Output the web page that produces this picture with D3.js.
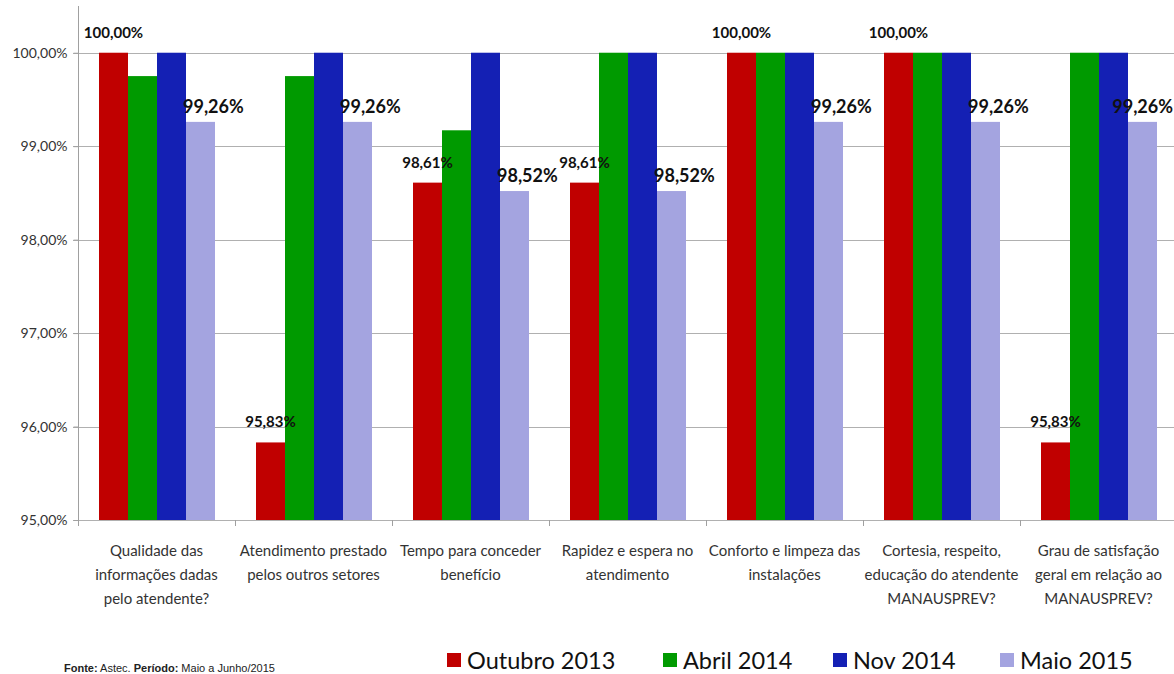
<!DOCTYPE html>
<html>
<head>
<meta charset="utf-8">
<script src="https://cdn.jsdelivr.net/npm/d3@7"></script>
<style>
  body { margin: 0; background: #fff; }
  svg { display: block; font-family: "Lato", "Open Sans", sans-serif; }
</style>
</head>
<body>
<script>
// dados
const categories = [
  ['Qualidade das', 'informações dadas', 'pelo atendente?'],
  ['Atendimento prestado', 'pelos outros setores'],
  ['Tempo para conceder', 'benefício'],
  ['Rapidez e espera no', 'atendimento'],
  ['Conforto e limpeza das', 'instalações'],
  ['Cortesia, respeito,', 'educação do atendente', 'MANAUSPREV?'],
  ['Grau de satisfação', 'geral em relação ao', 'MANAUSPREV?']
];
const seriesNames = ['Outubro 2013', 'Abril 2014', 'Nov 2014', 'Maio 2015'];
const outubro2013 = [100, 95.83, 98.61, 98.61, 100, 100, 95.83];
const abril2014 = [99.75, 99.75, 99.17, 100, 100, 100, 100];
const nov2014 = [100, 100, 100, 100, 100, 100, 100];
const maio2015 = [99.26, 99.26, 98.52, 98.52, 99.26, 99.26, 99.26];
const yTicks = [95, 96, 97, 98, 99, 100];
const colors = ['#c00000', '#009a00', '#1420b4', '#a4a4e0'];

window.addEventListener('load', function() {
  const W = 1174, H = 674;
  const svg = d3.select('body').append('svg')
    .attr('width', W).attr('height', H);

  const values = [outubro2013, abril2014, nov2014, maio2015];
  const idx = d3.range(categories.length);

  const x0 = d3.scaleBand().domain(idx).range([78, 1177]).padding(0);
  const x1 = d3.scaleBand().domain(d3.range(seriesNames.length)).range([21, 137]);
  const y = d3.scaleLinear().domain([95, 100.5]).range([520, 6]);

  const fmt = v => d3.format('.2f')(v).replace('.', ',') + '%';

  // grade horizontal
  svg.append('g').selectAll('line').data(yTicks).join('line')
    .attr('x1', 73).attr('x2', W)
    .attr('y1', d => Math.round(y(d)) + 0.5).attr('y2', d => Math.round(y(d)) + 0.5)
    .attr('stroke', '#b0b0b0').attr('stroke-width', 1);

  // eixo y
  const yAxis = svg.append('g').attr('transform', 'translate(78.5,0)')
    .call(d3.axisLeft(y).tickValues(yTicks).tickSize(5).tickFormat(fmt));
  yAxis.select('.domain').attr('stroke', '#a0a0a0').attr('d', 'M0,' + y(100.5) + 'V' + y(95));
  yAxis.selectAll('.tick line').attr('stroke', '#a0a0a0');
  yAxis.selectAll('.tick text')
    .attr('x', -11)
    .attr('fill', '#333')
    .style('font-size', '14px')
    .style('font-family', 'Lato, "Open Sans", sans-serif');

  // eixo x
  svg.append('g').selectAll('line').data(d3.range(categories.length + 1)).join('line')
    .attr('x1', d => Math.round(78 + d * x0.step()) + 0.5)
    .attr('x2', d => Math.round(78 + d * x0.step()) + 0.5)
    .attr('y1', 520).attr('y2', 526)
    .attr('stroke', '#a0a0a0');

  // barras
  const groups = svg.append('g').selectAll('g').data(idx).join('g')
    .attr('transform', i => 'translate(' + x0(i) + ',0)');

  groups.selectAll('rect')
    .data(i => values.map((s, k) => ({ k: k, v: s[i] })))
    .join('rect')
    .attr('x', d => x1(d.k))
    .attr('width', x1.bandwidth())
    .attr('y', d => y(d.v))
    .attr('height', d => y(95) - y(d.v))
    .attr('fill', d => colors[d.k]);

  // rótulos Outubro 2013
  groups.append('text')
    .attr('x', i => x1(0) + x1.bandwidth() / 2)
    .attr('y', i => y(outubro2013[i]) - 15)
    .attr('text-anchor', 'middle')
    .style('font-size', '15px')
    .style('font-weight', 'bold')
    .attr('fill', '#111')
    .text(i => fmt(outubro2013[i]));

  // rótulos Maio 2015 (o último é empurrado para dentro da área)
  groups.append('text')
    .attr('x', i => x1(3) - 3)
    .attr('y', i => y(maio2015[i]) - 9)
    .style('font-size', '18px')
    .style('font-weight', 'bold')
    .attr('fill', '#111')
    .text(i => fmt(maio2015[i]))
    .each(function(i) {
      const left = x0(i) + x1(3) - 3,
            w = this.getComputedTextLength();
      if (left + w > W - 1) {
        d3.select(this).attr('x', x1(3) - 3 - (left + w - (W - 1)));
      }
    });

  // rótulos das categorias
  groups.append('text')
    .attr('text-anchor', 'middle')
    .attr('fill', '#333')
    .style('font-size', '15px')
    .selectAll('tspan')
    .data(i => categories[i])
    .join('tspan')
    .attr('x', x0.bandwidth() / 2)
    .attr('y', (d, j) => 556 + j * 24)
    .text(d => d);

  // legenda
  const legendX = [447, 663, 833, 1000];
  const legend = svg.append('g').selectAll('g').data(seriesNames).join('g')
    .attr('transform', (d, k) => 'translate(' + legendX[k] + ',0)');
  legend.append('rect')
    .attr('x', 0).attr('y', 653).attr('width', 14).attr('height', 14)
    .attr('fill', (d, k) => colors[k]);
  legend.append('text')
    .attr('x', 20).attr('y', 669)
    .style('font-size', '23.5px')
    .attr('fill', '#111')
    .text(d => d);

  // fonte
  const fonte = svg.append('text')
    .attr('x', 64).attr('y', 672)
    .style('font-size', '11px')
    .style('font-family', '"Liberation Sans Narrow", "Liberation Sans", sans-serif')
    .attr('fill', '#222');
  fonte.append('tspan').style('font-weight', 'bold').text('Fonte:');
  fonte.append('tspan').text(' Astec. ');
  fonte.append('tspan').style('font-weight', 'bold').text('Período:');
  fonte.append('tspan').text(' Maio a Junho/2015');
});
</script>
</body>
</html>
